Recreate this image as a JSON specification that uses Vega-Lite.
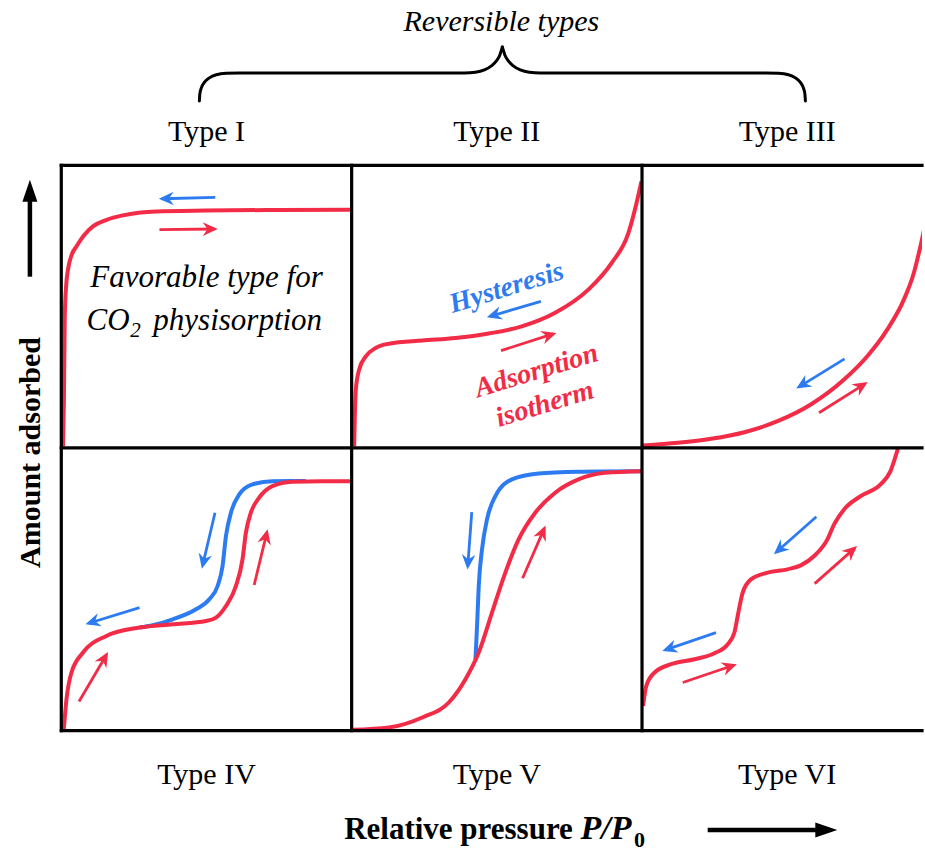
{
  "$schema": "https://vega.github.io/schema/vega-lite/v6.json",
  "width": 925,
  "height": 852,
  "autosize": {"type": "fit", "contains": "padding"},
  "padding": 0,
  "background": "white",
  "config": {"view": {"stroke": null}},
  "datasets": {
    "curves": [
      {"curve": "I", "branch": "adsorption", "x": 0.006, "y": 1.006},
      {"curve": "I", "branch": "adsorption", "x": 0.009, "y": 1.171},
      {"curve": "I", "branch": "adsorption", "x": 0.012, "y": 1.466},
      {"curve": "I", "branch": "adsorption", "x": 0.017, "y": 1.578},
      {"curve": "I", "branch": "adsorption", "x": 0.023, "y": 1.631},
      {"curve": "I", "branch": "adsorption", "x": 0.036, "y": 1.684},
      {"curve": "I", "branch": "adsorption", "x": 0.052, "y": 1.713},
      {"curve": "I", "branch": "adsorption", "x": 0.077, "y": 1.751},
      {"curve": "I", "branch": "adsorption", "x": 0.109, "y": 1.784},
      {"curve": "I", "branch": "adsorption", "x": 0.156, "y": 1.807},
      {"curve": "I", "branch": "adsorption", "x": 0.212, "y": 1.823},
      {"curve": "I", "branch": "adsorption", "x": 0.327, "y": 1.837},
      {"curve": "I", "branch": "adsorption", "x": 0.498, "y": 1.840},
      {"curve": "I", "branch": "adsorption", "x": 0.75, "y": 1.842},
      {"curve": "I", "branch": "adsorption", "x": 0.996, "y": 1.843},

      {"curve": "II", "branch": "adsorption", "x": 1.0086, "y": 1.006},
      {"curve": "II", "branch": "adsorption", "x": 1.0106, "y": 1.1},
      {"curve": "II", "branch": "adsorption", "x": 1.0144, "y": 1.207},
      {"curve": "II", "branch": "adsorption", "x": 1.0257, "y": 1.277},
      {"curve": "II", "branch": "adsorption", "x": 1.0487, "y": 1.324},
      {"curve": "II", "branch": "adsorption", "x": 1.083, "y": 1.354},
      {"curve": "II", "branch": "adsorption", "x": 1.129, "y": 1.369},
      {"curve": "II", "branch": "adsorption", "x": 1.243, "y": 1.380},
      {"curve": "II", "branch": "adsorption", "x": 1.358, "y": 1.389},
      {"curve": "II", "branch": "adsorption", "x": 1.472, "y": 1.405},
      {"curve": "II", "branch": "adsorption", "x": 1.586, "y": 1.430},
      {"curve": "II", "branch": "adsorption", "x": 1.701, "y": 1.478},
      {"curve": "II", "branch": "adsorption", "x": 1.815, "y": 1.560},
      {"curve": "II", "branch": "adsorption", "x": 1.895, "y": 1.654},
      {"curve": "II", "branch": "adsorption", "x": 1.953, "y": 1.760},
      {"curve": "II", "branch": "adsorption", "x": 1.981, "y": 1.866},
      {"curve": "II", "branch": "adsorption", "x": 1.998, "y": 1.943},

      {"curve": "III", "branch": "adsorption", "x": 2.0034, "y": 1.0088},
      {"curve": "III", "branch": "adsorption", "x": 2.1236, "y": 1.0184},
      {"curve": "III", "branch": "adsorption", "x": 2.238, "y": 1.0325},
      {"curve": "III", "branch": "adsorption", "x": 2.3526, "y": 1.0558},
      {"curve": "III", "branch": "adsorption", "x": 2.4669, "y": 1.0947},
      {"curve": "III", "branch": "adsorption", "x": 2.5812, "y": 1.1537},
      {"curve": "III", "branch": "adsorption", "x": 2.6959, "y": 1.2420},
      {"curve": "III", "branch": "adsorption", "x": 2.7758, "y": 1.3244},
      {"curve": "III", "branch": "adsorption", "x": 2.8445, "y": 1.4187},
      {"curve": "III", "branch": "adsorption", "x": 2.9018, "y": 1.5247},
      {"curve": "III", "branch": "adsorption", "x": 2.9361, "y": 1.6191},
      {"curve": "III", "branch": "adsorption", "x": 2.9588, "y": 1.7131},
      {"curve": "III", "branch": "adsorption", "x": 2.982, "y": 1.825},

      {"curve": "IV", "branch": "adsorption", "x": 0.0086, "y": 0.0053},
      {"curve": "IV", "branch": "adsorption", "x": 0.0179, "y": 0.1113},
      {"curve": "IV", "branch": "adsorption", "x": 0.0350, "y": 0.2057},
      {"curve": "IV", "branch": "adsorption", "x": 0.0748, "y": 0.2763},
      {"curve": "IV", "branch": "adsorption", "x": 0.1552, "y": 0.3350},
      {"curve": "IV", "branch": "adsorption", "x": 0.2695, "y": 0.3647},
      {"curve": "IV", "branch": "adsorption", "x": 0.3838, "y": 0.3763},
      {"curve": "IV", "branch": "adsorption", "x": 0.4985, "y": 0.3880},
      {"curve": "IV", "branch": "adsorption", "x": 0.5328, "y": 0.4000},
      {"curve": "IV", "branch": "adsorption", "x": 0.5671, "y": 0.4410},
      {"curve": "IV", "branch": "adsorption", "x": 0.6014, "y": 0.5117},
      {"curve": "IV", "branch": "adsorption", "x": 0.6241, "y": 0.6060},
      {"curve": "IV", "branch": "adsorption", "x": 0.6358, "y": 0.7004},
      {"curve": "IV", "branch": "adsorption", "x": 0.6529, "y": 0.7710},
      {"curve": "IV", "branch": "adsorption", "x": 0.6814, "y": 0.8240},
      {"curve": "IV", "branch": "adsorption", "x": 0.7271, "y": 0.8650},
      {"curve": "IV", "branch": "adsorption", "x": 0.7957, "y": 0.8806},
      {"curve": "IV", "branch": "adsorption", "x": 0.8987, "y": 0.8827},
      {"curve": "IV", "branch": "adsorption", "x": 0.9962, "y": 0.8827},

      {"curve": "IV-d", "branch": "desorption", "x": 0.2695, "y": 0.3647},
      {"curve": "IV-d", "branch": "desorption", "x": 0.3151, "y": 0.3728},
      {"curve": "IV-d", "branch": "desorption", "x": 0.3838, "y": 0.3940},
      {"curve": "IV-d", "branch": "desorption", "x": 0.4641, "y": 0.4293},
      {"curve": "IV-d", "branch": "desorption", "x": 0.5098, "y": 0.4647},
      {"curve": "IV-d", "branch": "desorption", "x": 0.5383, "y": 0.5117},
      {"curve": "IV-d", "branch": "desorption", "x": 0.5554, "y": 0.5823},
      {"curve": "IV-d", "branch": "desorption", "x": 0.5671, "y": 0.6883},
      {"curve": "IV-d", "branch": "desorption", "x": 0.5843, "y": 0.7710},
      {"curve": "IV-d", "branch": "desorption", "x": 0.6128, "y": 0.8357},
      {"curve": "IV-d", "branch": "desorption", "x": 0.6584, "y": 0.8710},
      {"curve": "IV-d", "branch": "desorption", "x": 0.7271, "y": 0.8827},
      {"curve": "IV-d", "branch": "desorption", "x": 0.8417, "y": 0.8830},

      {"curve": "V", "branch": "adsorption", "x": 1.0027, "y": 0.003},
      {"curve": "V", "branch": "adsorption", "x": 1.1287, "y": 0.0113},
      {"curve": "V", "branch": "adsorption", "x": 1.2431, "y": 0.0466},
      {"curve": "V", "branch": "adsorption", "x": 1.3347, "y": 0.0996},
      {"curve": "V", "branch": "adsorption", "x": 1.3920, "y": 0.1820},
      {"curve": "V", "branch": "adsorption", "x": 1.4377, "y": 0.2763},
      {"curve": "V", "branch": "adsorption", "x": 1.4834, "y": 0.4177},
      {"curve": "V", "branch": "adsorption", "x": 1.5293, "y": 0.5590},
      {"curve": "V", "branch": "adsorption", "x": 1.5750, "y": 0.6767},
      {"curve": "V", "branch": "adsorption", "x": 1.6323, "y": 0.7710},
      {"curve": "V", "branch": "adsorption", "x": 1.7010, "y": 0.8417},
      {"curve": "V", "branch": "adsorption", "x": 1.7810, "y": 0.8887},
      {"curve": "V", "branch": "adsorption", "x": 1.8726, "y": 0.9124},
      {"curve": "V", "branch": "adsorption", "x": 1.9983, "y": 0.9180},

      {"curve": "V-d", "branch": "desorption", "x": 1.4264, "y": 0.2520},
      {"curve": "V-d", "branch": "desorption", "x": 1.4319, "y": 0.3703},
      {"curve": "V-d", "branch": "desorption", "x": 1.4377, "y": 0.5117},
      {"curve": "V-d", "branch": "desorption", "x": 1.4490, "y": 0.6413},
      {"curve": "V-d", "branch": "desorption", "x": 1.4662, "y": 0.7473},
      {"curve": "V-d", "branch": "desorption", "x": 1.4950, "y": 0.8297},
      {"curve": "V-d", "branch": "desorption", "x": 1.5520, "y": 0.8887},
      {"curve": "V-d", "branch": "desorption", "x": 1.6437, "y": 0.9099},
      {"curve": "V-d", "branch": "desorption", "x": 1.7810, "y": 0.9160},
      {"curve": "V-d", "branch": "desorption", "x": 1.8726, "y": 0.9170},
      {"curve": "V-d", "branch": "desorption", "x": 1.9983, "y": 0.9180},

      {"curve": "VI", "branch": "adsorption", "x": 2.0034, "y": 0.0876},
      {"curve": "VI", "branch": "adsorption", "x": 2.0148, "y": 0.1583},
      {"curve": "VI", "branch": "adsorption", "x": 2.0436, "y": 0.2057},
      {"curve": "VI", "branch": "adsorption", "x": 2.1006, "y": 0.2350},
      {"curve": "VI", "branch": "adsorption", "x": 2.1809, "y": 0.2527},
      {"curve": "VI", "branch": "adsorption", "x": 2.2496, "y": 0.2739},
      {"curve": "VI", "branch": "adsorption", "x": 2.2952, "y": 0.3057},
      {"curve": "VI", "branch": "adsorption", "x": 2.3182, "y": 0.3470},
      {"curve": "VI", "branch": "adsorption", "x": 2.3296, "y": 0.4057},
      {"curve": "VI", "branch": "adsorption", "x": 2.3467, "y": 0.4883},
      {"curve": "VI", "branch": "adsorption", "x": 2.3752, "y": 0.5353},
      {"curve": "VI", "branch": "adsorption", "x": 2.4325, "y": 0.5590},
      {"curve": "VI", "branch": "adsorption", "x": 2.5012, "y": 0.5707},
      {"curve": "VI", "branch": "adsorption", "x": 2.5469, "y": 0.5848},
      {"curve": "VI", "branch": "adsorption", "x": 2.5929, "y": 0.6177},
      {"curve": "VI", "branch": "adsorption", "x": 2.6385, "y": 0.6767},
      {"curve": "VI", "branch": "adsorption", "x": 2.6615, "y": 0.7297},
      {"curve": "VI", "branch": "adsorption", "x": 2.6958, "y": 0.7827},
      {"curve": "VI", "branch": "adsorption", "x": 2.7528, "y": 0.8297},
      {"curve": "VI", "branch": "adsorption", "x": 2.8215, "y": 0.8710},
      {"curve": "VI", "branch": "adsorption", "x": 2.8558, "y": 0.9180},
      {"curve": "VI", "branch": "adsorption", "x": 2.8788, "y": 0.9887},
      {"curve": "VI", "branch": "adsorption", "x": 2.8823, "y": 1.0}
    ],
    "brace": [
      {"half": "left", "x": 0.4755, "y": 2.2279},
      {"half": "left", "x": 0.4772, "y": 2.2527},
      {"half": "left", "x": 0.4823, "y": 2.2739},
      {"half": "left", "x": 0.4926, "y": 2.2933},
      {"half": "left", "x": 0.5098, "y": 2.3092},
      {"half": "left", "x": 0.5338, "y": 2.3205},
      {"half": "left", "x": 0.5681, "y": 2.3258},
      {"half": "left", "x": 0.6128, "y": 2.3269},
      {"half": "left", "x": 1.3886, "y": 2.3269},
      {"half": "left", "x": 1.4264, "y": 2.3293},
      {"half": "left", "x": 1.4573, "y": 2.3375},
      {"half": "left", "x": 1.4813, "y": 2.3516},
      {"half": "left", "x": 1.4985, "y": 2.3693},
      {"half": "left", "x": 1.5105, "y": 2.3905},
      {"half": "left", "x": 1.5190, "y": 2.4187},
      {"half": "right", "x": 1.5190, "y": 2.4187},
      {"half": "right", "x": 1.5276, "y": 2.3905},
      {"half": "right", "x": 1.5396, "y": 2.3693},
      {"half": "right", "x": 1.5568, "y": 2.3516},
      {"half": "right", "x": 1.5808, "y": 2.3375},
      {"half": "right", "x": 1.6117, "y": 2.3293},
      {"half": "right", "x": 1.6495, "y": 2.3269},
      {"half": "right", "x": 2.4253, "y": 2.3269},
      {"half": "right", "x": 2.4700, "y": 2.3258},
      {"half": "right", "x": 2.5043, "y": 2.3205},
      {"half": "right", "x": 2.5283, "y": 2.3092},
      {"half": "right", "x": 2.5455, "y": 2.2933},
      {"half": "right", "x": 2.5558, "y": 2.2739},
      {"half": "right", "x": 2.5609, "y": 2.2527},
      {"half": "right", "x": 2.5627, "y": 2.2279}
    ],
    "frame": [
      {"x": 0, "y": 2, "x2": 2.9643, "y2": 2},
      {"x": 0, "y": 1, "x2": 2.9643, "y2": 1},
      {"x": 0, "y": 0, "x2": 2.9643, "y2": 0},
      {"x": 0, "y": 0, "x2": 0, "y2": 2},
      {"x": 1, "y": 0, "x2": 1, "y2": 2},
      {"x": 2, "y": 0, "x2": 2, "y2": 2}
    ],
    "arrows": [
      {"branch": "desorption", "x": 0.5304, "y": 1.8862, "x2": 0.3474, "y2": 1.8816},
      {"branch": "adsorption", "x": 0.3381, "y": 1.7721, "x2": 0.5269, "y2": 1.7746},
      {"branch": "desorption", "x": 1.6519, "y": 1.5187, "x2": 1.4768, "y2": 1.4657},
      {"branch": "adsorption", "x": 1.5146, "y": 1.3445, "x2": 1.6941, "y2": 1.4035},
      {"branch": "desorption", "x": 2.6976, "y": 1.3152, "x2": 2.5410, "y2": 1.2163},
      {"branch": "adsorption", "x": 2.6097, "y": 1.1244, "x2": 2.7676, "y2": 1.2269},
      {"branch": "desorption", "x": 0.5294, "y": 0.7710, "x2": 0.4868, "y2": 0.5848},
      {"branch": "adsorption", "x": 0.6643, "y": 0.5152, "x2": 0.7079, "y2": 0.7004},
      {"branch": "desorption", "x": 0.2695, "y": 0.4353, "x2": 0.0944, "y2": 0.3799},
      {"branch": "adsorption", "x": 0.0611, "y": 0.1032, "x2": 0.1552, "y2": 0.2678},
      {"branch": "desorption", "x": 1.4137, "y": 0.7731, "x2": 1.3999, "y2": 0.5823},
      {"branch": "adsorption", "x": 1.5887, "y": 0.5389, "x2": 1.6632, "y2": 0.7145},
      {"branch": "desorption", "x": 2.6004, "y": 0.7569, "x2": 2.4631, "y2": 0.6318},
      {"branch": "adsorption", "x": 2.5946, "y": 0.5201, "x2": 2.7319, "y2": 0.6449},
      {"branch": "desorption", "x": 2.2547, "y": 0.3470, "x2": 2.0810, "y2": 0.2855},
      {"branch": "adsorption", "x": 2.1404, "y": 0.1703, "x2": 2.3155, "y2": 0.2314}
    ],
    "axisArrows": [
      {"axis": "amount", "x": -0.1081, "y": 1.6060, "x2": -0.1081, "y2": 1.9205},
      {"axis": "pressure", "x": 2.2262, "y": -0.3516, "x2": 2.6451, "y2": -0.3516}
    ],
    "texts": [
      {"role": "group", "text": "Reversible types", "x": 1.5156, "y": 2.4753},
      {"role": "type", "text": "Type I", "x": 0.5, "y": 2.0848},
      {"role": "type", "text": "Type II", "x": 1.5, "y": 2.0848},
      {"role": "type", "text": "Type III", "x": 2.5, "y": 2.0848},
      {"role": "type", "text": "Type IV", "x": 0.5, "y": -0.189},
      {"role": "type", "text": "Type V", "x": 1.5, "y": -0.189},
      {"role": "type", "text": "Type VI", "x": 2.5, "y": -0.189},
      {"role": "yTitle", "text": "Amount adsorbed", "x": -0.0738, "y": 0.9841},
      {"role": "xTitle", "text": "Relative pressure", "x": 1.3680, "y": -0.3834},
      {"role": "xSymbol", "text": "P/P", "x": 1.8760, "y": -0.3834},
      {"role": "xSub", "text": "0", "x": 1.9914, "y": -0.4117},
      {"role": "note", "text": "Favorable type for", "x": 0.5, "y": 1.5707},
      {"role": "note", "text": "CO", "x": 0.1613, "y": 1.4187},
      {"role": "noteSub", "text": "2", "x": 0.2557, "y": 1.394},
      {"role": "note", "text": "physisorption", "x": 0.6076, "y": 1.4187},
      {"role": "hysteresis", "text": "Hysteresis", "x": 1.5338, "y": 1.5661},
      {"role": "isotherm", "text": "Adsorption", "x": 1.6368, "y": 1.2714},
      {"role": "isotherm", "text": "isotherm", "x": 1.6656, "y": 1.1537}
    ]
  },
  "encoding": {
    "x": {"field": "x", "type": "quantitative", "axis": null,
          "scale": {"domain": [-0.2111, 2.9643], "nice": false, "zero": false}},
    "y": {"field": "y", "type": "quantitative", "axis": null,
          "scale": {"domain": [-0.4258, 2.5848], "nice": false, "zero": false}}
  },
  "layer": [
    {
      "data": {"name": "curves"},
      "transform": [{"filter": "datum.branch === 'desorption'"}],
      "mark": {"type": "line", "color": "#2D7BF0", "strokeWidth": 4, "interpolate": "monotone", "clip": true},
      "encoding": {"detail": {"field": "curve"}}
    },
    {
      "data": {"name": "curves"},
      "transform": [{"filter": "datum.branch === 'adsorption'"}],
      "mark": {"type": "line", "color": "#F22B47", "strokeWidth": 4, "interpolate": "monotone", "clip": true},
      "encoding": {"detail": {"field": "curve"}}
    },
    {
      "data": {"name": "brace"},
      "mark": {"type": "line", "color": "black", "strokeWidth": 3, "interpolate": "monotone", "strokeCap": "round"},
      "encoding": {"detail": {"field": "half"}}
    },
    {
      "data": {"name": "frame"},
      "mark": {"type": "rule", "color": "black", "strokeWidth": 3.2, "strokeCap": "square"},
      "encoding": {"x2": {"field": "x2"}, "y2": {"field": "y2"}}
    },
    {
      "data": {"name": "arrows"},
      "mark": {"type": "rule", "strokeWidth": 2.8},
      "encoding": {
        "x2": {"field": "x2"}, "y2": {"field": "y2"},
        "color": {"field": "branch", "type": "nominal", "legend": null,
                  "scale": {"domain": ["adsorption", "desorption"], "range": ["#F22B47", "#2D7BF0"]}}
      }
    },
    {
      "data": {"name": "arrows"},
      "transform": [{"calculate": "atan2(-(datum.y2 - datum.y) * 283, (datum.x2 - datum.x) * 291.3) * 180 / PI", "as": "heading"}],
      "mark": {"type": "point", "shape": "M0.5,0L-1.7,-1L-1.0,0L-1.7,1Z", "filled": true, "opacity": 1, "size": 185, "strokeWidth": 0},
      "encoding": {
        "x": {"field": "x2", "type": "quantitative"},
        "y": {"field": "y2", "type": "quantitative"},
        "angle": {"field": "heading", "type": "quantitative", "scale": null},
        "color": {"field": "branch", "type": "nominal", "legend": null,
                  "scale": {"domain": ["adsorption", "desorption"], "range": ["#F22B47", "#2D7BF0"]}}
      }
    },
    {
      "data": {"name": "axisArrows"},
      "mark": {"type": "rule", "color": "black", "strokeWidth": 4.5},
      "encoding": {"x2": {"field": "x2"}, "y2": {"field": "y2"}}
    },
    {
      "data": {"name": "axisArrows"},
      "transform": [{"calculate": "atan2(-(datum.y2 - datum.y) * 283, (datum.x2 - datum.x) * 291.3) * 180 / PI", "as": "heading"}],
      "mark": {"type": "point", "shape": "M0.8,0L-1.4,-0.75L-1.4,0.75Z", "filled": true, "opacity": 1, "size": 400, "strokeWidth": 0, "color": "black"},
      "encoding": {
        "x": {"field": "x2", "type": "quantitative"},
        "y": {"field": "y2", "type": "quantitative"},
        "angle": {"field": "heading", "type": "quantitative", "scale": null}
      }
    },
    {
      "data": {"name": "texts"},
      "transform": [{"filter": "datum.role === 'group'"}],
      "mark": {"type": "text", "font": "Liberation Serif", "fontSize": 30, "fontStyle": "italic", "align": "center", "baseline": "alphabetic", "color": "black"},
      "encoding": {"text": {"field": "text"}}
    },
    {
      "data": {"name": "texts"},
      "transform": [{"filter": "datum.role === 'type'"}],
      "mark": {"type": "text", "font": "Liberation Serif", "fontSize": 30, "align": "center", "baseline": "alphabetic", "color": "black"},
      "encoding": {"text": {"field": "text"}}
    },
    {
      "data": {"name": "texts"},
      "transform": [{"filter": "datum.role === 'yTitle'"}],
      "mark": {"type": "text", "font": "Liberation Serif", "fontSize": 30, "fontWeight": "bold", "align": "center", "baseline": "alphabetic", "angle": 270, "color": "black"},
      "encoding": {"text": {"field": "text"}}
    },
    {
      "data": {"name": "texts"},
      "transform": [{"filter": "datum.role === 'xTitle'"}],
      "mark": {"type": "text", "font": "Liberation Serif", "fontSize": 31, "fontWeight": "bold", "align": "center", "baseline": "alphabetic", "color": "black"},
      "encoding": {"text": {"field": "text"}}
    },
    {
      "data": {"name": "texts"},
      "transform": [{"filter": "datum.role === 'xSymbol'"}],
      "mark": {"type": "text", "font": "Liberation Serif", "fontSize": 34, "fontWeight": "bold", "fontStyle": "italic", "align": "center", "baseline": "alphabetic", "color": "black"},
      "encoding": {"text": {"field": "text"}}
    },
    {
      "data": {"name": "texts"},
      "transform": [{"filter": "datum.role === 'xSub'"}],
      "mark": {"type": "text", "font": "Liberation Serif", "fontSize": 22, "fontWeight": "bold", "align": "center", "baseline": "alphabetic", "color": "black"},
      "encoding": {"text": {"field": "text"}}
    },
    {
      "data": {"name": "texts"},
      "transform": [{"filter": "datum.role === 'note'"}],
      "mark": {"type": "text", "font": "Liberation Serif", "fontSize": 31, "fontStyle": "italic", "align": "center", "baseline": "alphabetic", "color": "black"},
      "encoding": {"text": {"field": "text"}}
    },
    {
      "data": {"name": "texts"},
      "transform": [{"filter": "datum.role === 'noteSub'"}],
      "mark": {"type": "text", "font": "Liberation Serif", "fontSize": 21, "fontStyle": "italic", "align": "center", "baseline": "alphabetic", "color": "black"},
      "encoding": {"text": {"field": "text"}}
    },
    {
      "data": {"name": "texts"},
      "transform": [{"filter": "datum.role === 'hysteresis'"}],
      "mark": {"type": "text", "font": "Liberation Serif", "fontSize": 28, "fontWeight": "bold", "fontStyle": "italic", "align": "center", "baseline": "middle", "angle": -17, "color": "#2D7BF0"},
      "encoding": {"text": {"field": "text"}}
    },
    {
      "data": {"name": "texts"},
      "transform": [{"filter": "datum.role === 'isotherm'"}],
      "mark": {"type": "text", "font": "Liberation Serif", "fontSize": 28, "fontWeight": "bold", "fontStyle": "italic", "align": "center", "baseline": "middle", "angle": -17, "color": "#F22B47"},
      "encoding": {"text": {"field": "text"}}
    }
  ]
}
